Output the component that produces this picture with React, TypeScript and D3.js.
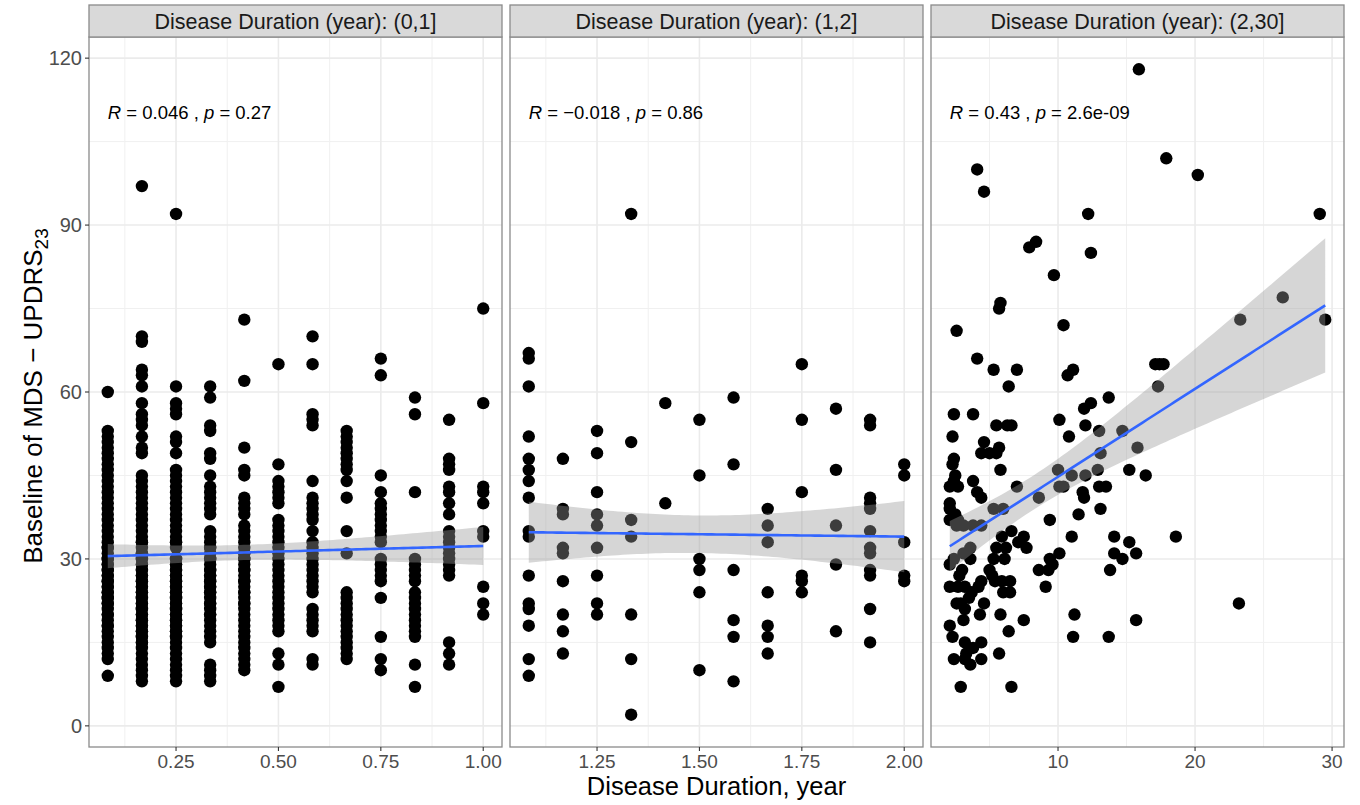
import React, { useEffect, useRef } from 'react';
import * as d3 from 'd3';

// facet titles and the stat_cor labels
const stripLabels = [
  'Disease Duration (year): (0,1]',
  'Disease Duration (year): (1,2]',
  'Disease Duration (year): (2,30]',
];
const rLabels = ['0.046', '\u22120.018', '0.43'];
const pLabels = ['0.27', '0.86', '2.6e-09'];

const yTicks = [0, 30, 60, 90, 120];
const yMinor = [15, 45, 75, 105];
const xTicks = [[0.25, 0.5, 0.75, 1.0], [1.25, 1.5, 1.75, 2.0], [10, 20, 30]];
const xMinor = [[0.125, 0.375, 0.625, 0.875], [1.125, 1.375, 1.625, 1.875], [5, 15, 25]];

// panel 1: duration in months (0-1 yr), one list of scores per month
const monthsP1 = [1, 2, 3, 4, 5, 6, 7, 8, 9, 10, 11, 12];
const scoresP1 = [
  [60, 53, 52, 51, 50, 49, 48, 47, 46, 45, 44, 43, 42, 41, 40, 39, 38, 37, 36, 35, 34, 33, 32, 31, 30, 29, 28, 27, 26, 25, 24, 23, 22, 21, 20, 19, 18, 17, 16, 15, 14, 13, 12, 9,
    30, 28, 26, 25, 24, 22, 20, 18, 32, 29, 27, 23],
  [97, 70, 69, 64, 63, 61, 58, 56, 55, 54, 52, 50, 49, 45, 44, 43, 42, 41, 40, 39, 38, 37, 36, 35, 34, 33, 32, 31, 30, 29, 28, 27, 26, 25, 24, 23, 22, 21, 20, 19, 18, 17, 16, 15, 14, 13, 12, 11, 10, 9, 8,
    30, 28, 27, 26, 25, 24, 23, 22, 21, 20, 19, 18, 17, 16, 15, 29, 31, 33],
  [92, 61, 58, 57, 56, 52, 51, 49, 46, 45, 44, 43, 42, 41, 40, 39, 38, 37, 36, 35, 34, 33, 32, 30, 29, 28, 27, 26, 25, 24, 23, 22, 21, 20, 19, 18, 17, 16, 15, 14, 13, 12, 11, 10, 9, 8,
    30, 28, 27, 26, 25, 24, 23, 22, 21, 20, 19, 18, 17, 16, 29, 33],
  [61, 59, 54, 53, 49, 48, 45, 43, 42, 41, 40, 39, 38, 35, 34, 33, 32, 31, 30, 29, 28, 27, 26, 25, 24, 23, 22, 21, 20, 19, 18, 17, 16, 15, 11, 10, 9, 8,
    30, 28, 26, 25, 24, 22, 20, 32, 27],
  [73, 62, 50, 46, 45, 41, 40, 39, 38, 36, 35, 34, 33, 32, 31, 30, 29, 28, 27, 26, 25, 24, 23, 22, 21, 20, 19, 18, 17, 16, 15, 14, 13, 12, 11, 10,
    30, 28, 26, 24, 22, 31],
  [65, 47, 44, 43, 42, 41, 40, 37, 36, 35, 34, 33, 32, 31, 30, 29, 28, 27, 26, 25, 24, 23, 22, 21, 20, 19, 18, 17, 13, 11, 7],
  [70, 65, 56, 55, 54, 44, 41, 40, 39, 38, 37, 35, 33, 32, 31, 30, 29, 28, 27, 26, 25, 24, 21, 20, 19, 18, 17, 12, 11],
  [53, 52, 51, 50, 49, 48, 47, 46, 44, 41, 35, 31, 24, 23, 22, 21, 20, 19, 18, 17, 16, 15, 14, 13, 12],
  [66, 63, 45, 42, 40, 39, 38, 37, 36, 35, 34, 33, 30, 29, 28, 27, 26, 23, 16, 12, 10],
  [59, 56, 42, 30, 29, 28, 27, 26, 24, 23, 22, 21, 20, 19, 18, 17, 16, 11, 7],
  [55, 48, 47, 46, 43, 42, 40, 38, 35, 34, 33, 32, 31, 30, 29, 28, 27, 15, 13, 11],
  [75, 58, 43, 42, 40, 35, 34, 25, 22, 20],
];

// panel 2: duration in months (1-2 yr)
const monthsP2 = [13, 14, 15, 16, 17, 18, 19, 20, 21, 22, 23, 24];
const scoresP2 = [
  [67, 66, 61, 52, 48, 46, 44, 41, 35, 34, 27, 22, 21, 18, 12, 9],
  [48, 39, 38, 32, 31, 26, 20, 17, 13],
  [53, 49, 42, 38, 36, 32, 27, 22, 20],
  [92, 51, 37, 34, 20, 12, 2],
  [58, 40],
  [55, 45, 30, 28, 24, 10],
  [59, 47, 28, 19, 16, 8],
  [39, 36, 33, 24, 18, 16, 13],
  [65, 55, 42, 27, 26, 24],
  [57, 46, 36, 29, 17],
  [55, 54, 41, 40, 39, 35, 32, 31, 28, 27, 21, 15],
  [47, 45, 33, 27, 26],
];

// panel 3: [duration in years, score]
const pointsP3: [number, number][] = [
  [15.9, 118], [4.1, 100], [4.6, 96], [17.9, 102], [20.2, 99], [12.2, 92], [29.1, 92], [7.9, 86], [8.4, 87],
  [12.4, 85], [9.7, 81], [5.8, 76], [5.7, 75], [26.4, 77], [23.3, 73], [29.5, 73], [2.6, 71], [10.4, 72],
  [4.1, 66], [5.3, 64], [7.0, 64], [6.4, 61], [10.7, 63], [11.1, 64], [17.1, 65], [17.4, 65], [17.7, 65], [17.3, 61],
  [13.7, 59], [11.9, 57], [12.4, 58], [2.4, 56], [3.8, 56], [10.1, 55], [5.5, 54], [6.3, 54], [6.6, 54], [12.0, 54],
  [2.3, 52], [10.8, 52], [13.0, 53], [14.7, 53], [4.6, 51], [5.7, 50], [4.4, 49], [5.0, 49], [5.5, 49], [2.4, 48],
  [2.3, 47], [15.8, 50], [13.1, 49], [5.8, 46], [10.0, 46], [11.0, 45], [12.0, 45], [12.9, 46], [15.2, 46], [16.4, 45],
  [2.5, 45], [2.4, 44], [2.1, 43], [2.7, 43], [3.8, 44], [7.0, 43], [4.1, 42], [4.4, 41], [8.6, 41], [10.1, 43],
  [10.4, 43], [11.8, 42], [11.9, 41], [13.0, 43], [13.5, 43], [2.1, 40], [2.1, 39], [2.5, 38], [2.1, 37], [2.7, 37],
  [5.3, 39], [6.0, 39], [9.4, 37], [11.5, 38], [13.1, 39], [2.6, 36], [3.1, 36], [3.8, 36], [4.4, 36], [6.6, 35],
  [5.9, 34], [7.5, 34], [7.1, 33], [7.7, 32], [3.6, 32], [5.5, 32], [6.2, 32], [11.0, 34], [14.1, 34], [18.6, 34],
  [15.2, 33], [15.7, 31], [14.1, 31], [14.7, 30], [10.1, 31], [9.4, 30], [9.6, 29], [8.6, 28], [9.3, 28], [13.8, 28],
  [9.1, 25], [2.4, 30], [3.1, 31], [3.6, 30], [5.3, 30], [6.1, 30], [2.1, 29], [5.0, 28], [5.2, 27], [5.4, 26],
  [4.4, 26], [4.2, 25], [3.7, 24], [3.5, 23], [3.0, 28], [2.8, 27], [2.1, 25], [2.7, 25], [3.2, 25], [2.6, 22],
  [2.9, 22], [3.2, 21], [3.1, 19], [4.6, 22], [4.3, 20], [5.9, 26], [6.5, 26], [6.0, 24], [6.5, 24], [5.8, 20],
  [7.5, 19], [6.4, 17], [11.2, 20], [15.7, 19], [11.1, 16], [13.7, 16], [23.2, 22], [2.1, 18], [2.3, 16], [3.2, 15],
  [4.4, 15], [3.8, 14], [3.3, 13], [2.4, 12], [3.2, 12], [4.4, 12], [3.6, 11], [5.7, 13], [2.9, 7], [6.6, 7],
];

function columnsToPoints(months: number[], scores: number[][]): [number, number][] {
  const out: [number, number][] = [];
  months.forEach((m, i) => scores[i].forEach(s => out.push([m / 12, s])));
  return out;
}

// t quantile (0.975) via Cornish-Fisher expansion
function t975(df: number) {
  const z = 1.959964;
  return z + (z ** 3 + z) / (4 * df) + (5 * z ** 5 + 16 * z ** 3 + 3 * z) / (96 * df * df);
}

// lm fit + 95% confidence band, like geom_smooth(method = "lm")
function lmBand(pts: [number, number][]) {
  const n = pts.length;
  const mx = d3.mean(pts, d => d[0]) as number;
  const my = d3.mean(pts, d => d[1]) as number;
  let sxx = 0, sxy = 0;
  pts.forEach(([x, y]) => { sxx += (x - mx) ** 2; sxy += (x - mx) * (y - my); });
  const b = sxy / sxx, a = my - b * mx;
  let sse = 0;
  pts.forEach(([x, y]) => { sse += (y - a - b * x) ** 2; });
  const s = Math.sqrt(sse / (n - 2));
  const t = t975(n - 2);
  const [x0, x1] = d3.extent(pts, d => d[0]) as [number, number];
  return d3.range(81).map(i => {
    const x = x0 + (x1 - x0) * i / 80;
    const yh = a + b * x;
    const se = s * Math.sqrt(1 / n + (x - mx) ** 2 / sxx);
    return { x, y: yh, lo: yh - t * se, hi: yh + t * se };
  });
}

function expand(ext: [number, number]): [number, number] {
  const pad = (ext[1] - ext[0]) * 0.05;
  return [ext[0] - pad, ext[1] + pad];
}

function App() {
  const ref = useRef<SVGSVGElement>(null);

  useEffect(() => {
    const svg = d3.select(ref.current);
    svg.selectAll('*').remove();

    const font = '"Liberation Sans", Arial, Helvetica, sans-serif';
    const panels = [
      columnsToPoints(monthsP1, scoresP1),
      columnsToPoints(monthsP2, scoresP2),
      pointsP3,
    ];
    const allY = panels.flat().map(d => d[1]);

    const top = 37, bottom = 747, stripTop = 5;
    const panelW = 413, gap = 8, left0 = 89;
    const border = '#8a8a8a';

    const y = d3.scaleLinear()
      .domain(expand(d3.extent(allY) as [number, number]))
      .range([bottom, top]);

    panels.forEach((pts, pi) => {
      const left = left0 + pi * (panelW + gap);
      const x = d3.scaleLinear()
        .domain(expand(d3.extent(pts, d => d[0]) as [number, number]))
        .range([left, left + panelW]);

      const g = svg.append('g');

      // panel background + grid
      g.append('rect').attr('x', left).attr('y', top).attr('width', panelW).attr('height', bottom - top)
        .attr('fill', '#fff');
      g.selectAll('.ymin').data(yMinor).enter().append('line')
        .attr('x1', left).attr('x2', left + panelW)
        .attr('y1', d => y(d)).attr('y2', d => y(d))
        .attr('stroke', '#F0F0F0').attr('stroke-width', 1);
      g.selectAll('.xmin').data(xMinor[pi]).enter().append('line')
        .attr('x1', d => x(d)).attr('x2', d => x(d))
        .attr('y1', top).attr('y2', bottom)
        .attr('stroke', '#F0F0F0').attr('stroke-width', 1);
      g.selectAll('.ymaj').data(yTicks).enter().append('line')
        .attr('x1', left).attr('x2', left + panelW)
        .attr('y1', d => y(d)).attr('y2', d => y(d))
        .attr('stroke', '#EBEBEB').attr('stroke-width', 1.6);
      g.selectAll('.xmaj').data(xTicks[pi]).enter().append('line')
        .attr('x1', d => x(d)).attr('x2', d => x(d))
        .attr('y1', top).attr('y2', bottom)
        .attr('stroke', '#EBEBEB').attr('stroke-width', 1.6);

      // points
      g.selectAll('circle').data(pts).enter().append('circle')
        .attr('cx', d => x(d[0])).attr('cy', d => y(d[1])).attr('r', 6.2)
        .attr('fill', '#000');

      // smooth
      const band = lmBand(pts);
      g.append('path')
        .attr('d', d3.area<any>().x(d => x(d.x)).y0(d => y(d.lo)).y1(d => y(d.hi))(band) as string)
        .attr('fill', '#999999').attr('fill-opacity', 0.4);
      g.append('path')
        .attr('d', d3.line<any>().x(d => x(d.x)).y(d => y(d.y))(band) as string)
        .attr('fill', 'none').attr('stroke', '#3366FF').attr('stroke-width', 2.6);

      // stat_cor label
      const minX = d3.min(pts, d => d[0]) as number;
      const txt = g.append('text').attr('x', x(minX)).attr('y', y(109))
        .attr('font-family', font).attr('font-size', 18.5).attr('fill', '#000');
      txt.append('tspan').attr('font-style', 'italic').text('R');
      txt.append('tspan').text(` = ${rLabels[pi]} , `);
      txt.append('tspan').attr('font-style', 'italic').text('p');
      txt.append('tspan').text(` = ${pLabels[pi]}`);

      // border
      g.append('rect').attr('x', left).attr('y', top).attr('width', panelW).attr('height', bottom - top)
        .attr('fill', 'none').attr('stroke', border).attr('stroke-width', 1.3);

      // strip
      g.append('rect').attr('x', left).attr('y', stripTop).attr('width', panelW).attr('height', top - stripTop)
        .attr('fill', '#D9D9D9').attr('stroke', border).attr('stroke-width', 1.3);
      g.append('text').attr('x', left + panelW / 2).attr('y', (stripTop + top) / 2)
        .attr('dy', '0.36em').attr('text-anchor', 'middle')
        .attr('font-family', font).attr('font-size', 21.5).attr('fill', '#1A1A1A')
        .text(stripLabels[pi]);

      // x axis
      const fmt = pi === 2 ? d3.format('d') : d3.format('.2f');
      g.selectAll('.xt').data(xTicks[pi]).enter().append('line')
        .attr('x1', d => x(d)).attr('x2', d => x(d))
        .attr('y1', bottom).attr('y2', bottom + 4)
        .attr('stroke', '#333').attr('stroke-width', 1.1);
      g.selectAll('.xl').data(xTicks[pi]).enter().append('text')
        .attr('x', d => x(d)).attr('y', bottom + 21)
        .attr('text-anchor', 'middle')
        .attr('font-family', font).attr('font-size', 19).attr('fill', '#4D4D4D')
        .text(d => fmt(d));
    });

    // y axis on first panel
    const ya = svg.append('g');
    ya.selectAll('line').data(yTicks).enter().append('line')
      .attr('x1', left0 - 4).attr('x2', left0)
      .attr('y1', d => y(d)).attr('y2', d => y(d))
      .attr('stroke', '#333').attr('stroke-width', 1.1);
    ya.selectAll('text').data(yTicks).enter().append('text')
      .attr('x', left0 - 7).attr('y', d => y(d)).attr('dy', '0.36em')
      .attr('text-anchor', 'end')
      .attr('font-family', font).attr('font-size', 20).attr('fill', '#4D4D4D')
      .text(d => d);

    // axis titles
    const xRight = left0 + 3 * panelW + 2 * gap;
    svg.append('text').attr('x', (left0 + xRight) / 2).attr('y', 795)
      .attr('text-anchor', 'middle')
      .attr('font-family', font).attr('font-size', 25.5).attr('fill', '#000')
      .text('Disease Duration, year');

    const yt = svg.append('text')
      .attr('transform', `translate(42,${(top + bottom) / 2 + 4}) rotate(-90)`)
      .attr('text-anchor', 'middle')
      .attr('font-family', font).attr('font-size', 26).attr('fill', '#000');
    yt.append('tspan').text('Baseline of MDS \u2212 UPDRS');
    yt.append('tspan').attr('font-size', 19).attr('dy', 6).text('23');
  }, []);

  return (
    <svg ref={ref} width={1360} height={805}
      style={{ position: 'absolute', left: 0, top: 0, background: '#fff' }} />
  );
}

export default App;
